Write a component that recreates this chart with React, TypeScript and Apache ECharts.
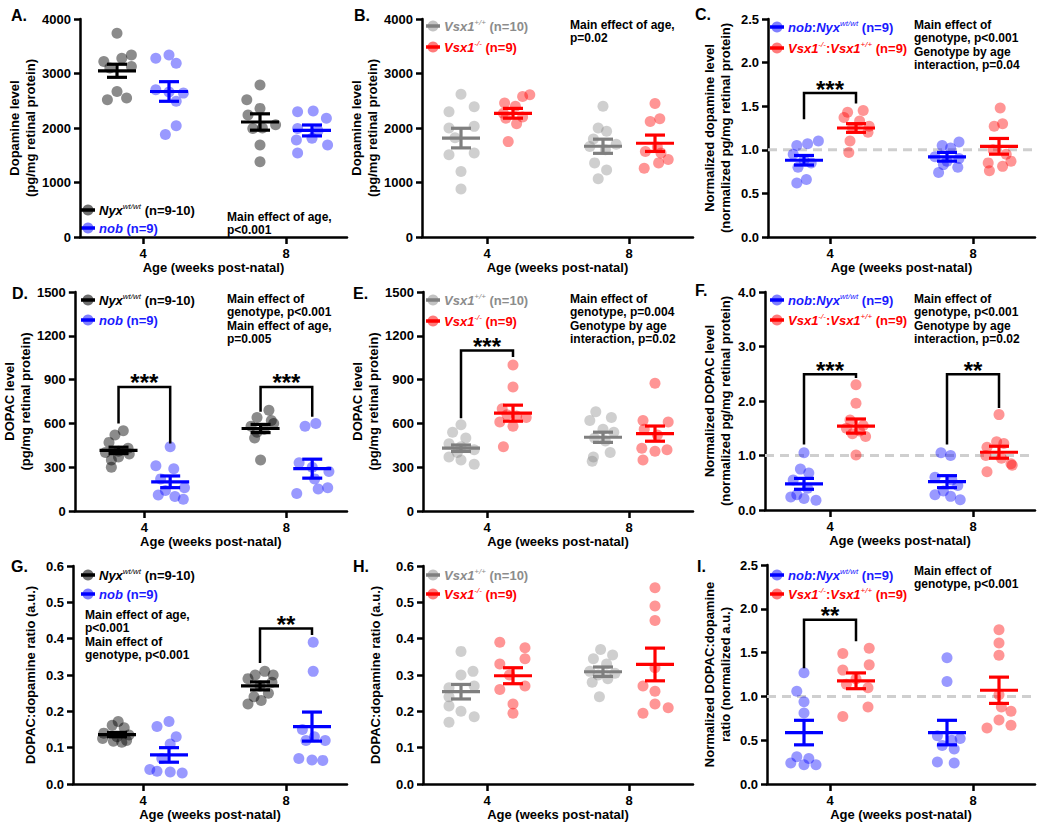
import React, { useEffect, useRef } from 'react';
import * as echarts from 'echarts';

const FONT = '"Liberation Sans", Arial, Helvetica, sans-serif';

// ---------- shared axis data ----------
const AGES = [4, 8];
const AGE_LABELS = ['4', '8'];
const X_TITLE = 'Age (weeks post-natal)';
const REF_LEVEL = 1;

const DA_TICKS = [0, 1000, 2000, 3000, 4000];
const NORM_DA_TICKS = [0, 0.5, 1, 1.5, 2, 2.5];
const DOPAC_TICKS = [0, 300, 600, 900, 1200, 1500];
const NORM_DOPAC_TICKS = [0, 1, 2, 3, 4];
const RATIO_TICKS = [0, 0.1, 0.2, 0.3, 0.4, 0.5, 0.6];
const NORM_RATIO_TICKS = [0, 0.5, 1, 1.5, 2, 2.5];

// ---------- Panel A: dopamine, Nyx wt/wt vs nob ----------
const A_G1 = [3740, 3340, 3280, 3220, 3130, 3100, 2670, 2550, 2520];
const A_G1_JIT = [0, 1.2, 0.4, -1.1, 1.2, -0.6, 0, 0.8, -0.8];
const A_G2 = [3340, 3280, 3190, 2700, 2660, 2640, 2490, 2040, 1880];
const A_G2_JIT = [0, -1.1, 0.6, -1.1, 0, 1.2, 0.6, 0.6, -0.3];
const A_G3 = [2790, 2520, 2360, 2240, 2060, 2000, 1990, 1690, 1380];
const A_G3_JIT = [0, -1.1, 0, -1, 1.3, 0.2, -0.6, 0, 0];
const A_G4 = [2310, 2300, 2180, 1990, 1950, 1810, 1780, 1690, 1540];
const A_G4_JIT = [0.1, -1.2, 1.2, -1.2, 0.5, 0, -1.3, 1.3, -1.2];
const A_MEAN = [3050, 2670, 2110, 1955];
const A_SEM = [120, 180, 150, 100];

// ---------- Panel B: dopamine, Vsx1 +/+ vs -/- ----------
const B_G1 = [2620, 2390, 2300, 2030, 2000, 1820, 1540, 1510, 1200, 880];
const B_G1_JIT = [0, 1.1, -1, 1.1, -1, -0.5, 1.1, -1, 0, 0];
const B_G2 = [2610, 2580, 2460, 2400, 2270, 2200, 2180, 2080, 1750];
const B_G2_JIT = [1.4, 0.8, -0.7, 0.2, -0.8, 0.8, -0.6, 0.3, -0.4];
const B_G3 = [2400, 2000, 1940, 1800, 1700, 1660, 1600, 1360, 1230, 1070];
const B_G3_JIT = [0, -0.4, 0.3, -0.8, 1.1, -1.1, 0.2, -0.7, 0.3, -0.4];
const B_G4 = [2450, 2170, 2120, 1650, 1570, 1540, 1420, 1360, 1260];
const B_G4_JIT = [0, 0.4, -0.4, 0.2, -0.8, 0.5, 1.1, 0.3, -0.9];
const B_MEAN = [1815, 2270, 1665, 1720];
const B_SEM = [180, 90, 130, 150];

// ---------- Panel C: normalized dopamine ----------
const C_G1 = [1.1, 1.07, 1.05, 0.95, 0.88, 0.85, 0.8, 0.66, 0.62];
const C_G1_JIT = [1.2, 0.3, -0.6, -0.9, 0, 0.6, -0.5, 0.2, -0.6];
const C_G2 = [1.45, 1.43, 1.37, 1.33, 1.27, 1.25, 1.2, 1.1, 0.97];
const C_G2_JIT = [0.6, -0.7, -1.0, 0.3, 1.1, -0.3, 1.0, -0.5, -0.6];
const C_G3 = [1.09, 1.05, 1.02, 0.92, 0.9, 0.87, 0.83, 0.8, 0.74];
const C_G3_JIT = [1.0, -0.4, 0.3, -1.0, 1.0, 0, -0.3, 0.9, -0.7];
const C_G4 = [1.48, 1.3, 1.27, 1.0, 0.95, 0.87, 0.85, 0.81, 0.76];
const C_G4_JIT = [0.1, 0.3, -0.4, -0.5, 0.6, 1.0, -0.9, 0.3, -0.8];
const C_MEAN = [0.88, 1.25, 0.92, 1.04];
const C_SEM = [0.055, 0.05, 0.05, 0.09];
const C_BRACKETS = [[0, 1.65, 1.35, 1.53]];
const C_STARS = ['***'];

// ---------- Panel D: DOPAC, Nyx vs nob ----------
const D_G1 = [550, 520, 470, 430, 410, 400, 390, 370, 350, 300];
const D_G1_JIT = [0.4, -0.3, -0.8, 0.8, 0, -1.1, 0.9, 0, -0.6, -0.6];
const D_G2 = [440, 310, 290, 220, 160, 140, 110, 100, 80];
const D_G2_JIT = [0, -1.2, 0.3, -0.8, 1.2, -0.4, -1.0, 0.4, 1.1];
const D_G3 = [690, 640, 620, 600, 580, 560, 540, 500, 350];
const D_G3_JIT = [0.7, -0.3, 0.9, 1.1, -0.8, 0.3, -0.3, -0.5, 0];
const D_G4 = [600, 580, 330, 300, 270, 220, 160, 150, 120];
const D_G4_JIT = [0.3, -0.6, -1.1, 0, 1.4, 0.2, 1.3, 0.5, -1.3];
const D_MEAN = [415, 200, 565, 290];
const D_SEM = [22, 40, 28, 65];
const D_BRACKETS = [[0, 850, 600, 463], [1, 850, 680, 645]];
const D_STARS = ['***', '***'];

// ---------- Panel E: DOPAC, Vsx1 ----------
const E_G1 = [590, 540, 500, 460, 440, 420, 400, 370, 350, 320];
const E_G1_JIT = [0, -0.7, 0.4, -1.0, 0, 1.1, -0.3, -1.0, 0, 1.1];
const E_G2 = [1000, 850, 700, 660, 650, 640, 610, 580, 440];
const E_G2_JIT = [0, 0, -0.9, -0.5, 0.3, 1.1, -1.1, 0, -0.8];
const E_G3 = [680, 640, 620, 560, 540, 500, 480, 400, 370, 340];
const E_G3_JIT = [-0.6, 0.7, -1.1, 0, 0.9, -0.7, 0.2, 0.6, -0.8, -0.9];
const E_G4 = [875, 620, 610, 560, 520, 430, 420, 410, 350];
const E_G4_JIT = [0, -1.0, 1.1, -0.9, 0.2, -1.1, 1.0, 0, -1.0];
const E_MEAN = [430, 670, 505, 530];
const E_SEM = [22, 55, 35, 52];
const E_BRACKETS = [[0, 1100, 635, 1055]];
const E_STARS = ['***'];

// ---------- Panel F: normalized DOPAC ----------
const F_G1 = [1.05, 0.75, 0.68, 0.55, 0.4, 0.28, 0.24, 0.21, 0.18];
const F_G1_JIT = [0, -0.3, 0.4, -0.9, 0.3, -0.6, -1.1, 0, 1.0];
const F_G2 = [2.3, 1.96, 1.65, 1.55, 1.5, 1.45, 1.4, 1.35, 1.01];
const F_G2_JIT = [0, 0, -0.5, 0.6, -0.8, 0.3, -0.3, 0.8, 0];
const F_G3 = [1.05, 1.0, 0.6, 0.55, 0.45, 0.35, 0.28, 0.25, 0.19];
const F_G3_JIT = [-0.5, 0.3, -1.0, 0.4, 0.9, -0.3, -1.0, 0.3, 1.1];
const F_G4 = [1.75, 1.25, 1.22, 1.15, 1.0, 0.95, 0.85, 0.82, 0.7];
const F_G4_JIT = [0, -0.2, 0.4, -1.0, -1.1, 0.2, 1.0, 1.1, -1.0];
const F_MEAN = [0.48, 1.54, 0.52, 1.06];
const F_SEM = [0.1, 0.13, 0.11, 0.11];
const F_BRACKETS = [[0, 2.49, 1.2, 2.42], [1, 2.49, 1.2, 1.87]];
const F_STARS = ['***', '**'];

// ---------- Panel G: DOPAC:dopamine ratio, Nyx vs nob ----------
const G_G1 = [0.172, 0.162, 0.155, 0.14, 0.135, 0.13, 0.125, 0.12, 0.118, 0.115];
const G_G1_JIT = [0.1, -0.4, 0.6, -1.1, 1.0, 0, -1.2, 0.8, -0.3, 0.4];
const G_G2 = [0.172, 0.158, 0.13, 0.11, 0.07, 0.04, 0.035, 0.033, 0.03];
const G_G2_JIT = [0, -1.0, 0.6, 0.1, -0.6, -1.6, -1.0, 0.1, 1.1];
const G_G3 = [0.31, 0.3, 0.3, 0.29, 0.28, 0.27, 0.25, 0.24, 0.23, 0.22];
const G_G3_JIT = [0.4, 1.1, -0.4, -1.0, 1.0, 0, 0.7, -0.5, 0.1, -1.0];
const G_G4 = [0.39, 0.31, 0.15, 0.13, 0.12, 0.12, 0.07, 0.066, 0.065];
const G_G4_JIT = [0.1, 0.1, -0.8, 0.2, 1.1, -0.5, -1.1, 0, 0.9];
const G_MEAN = [0.136, 0.08, 0.27, 0.158];
const G_SEM = [0.006, 0.02, 0.011, 0.04];
const G_BRACKETS = [[1, 0.428, 0.333, 0.41]];
const G_STARS = ['**'];

// ---------- Panel H: ratio, Vsx1 ----------
const H_G1 = [0.365, 0.31, 0.3, 0.27, 0.265, 0.24, 0.215, 0.2, 0.185, 0.17];
const H_G1_JIT = [0, 1.0, 0, 1.1, -1.0, -1.0, -1.0, 0, 1.1, -1.0];
const H_G2 = [0.39, 0.375, 0.345, 0.33, 0.3, 0.27, 0.26, 0.22, 0.195];
const H_G2_JIT = [-1.1, 1.0, 1.0, -1.1, -0.3, 1.0, -1.1, 0, 0];
const H_G3 = [0.37, 0.355, 0.345, 0.33, 0.31, 0.305, 0.3, 0.29, 0.28, 0.24];
const H_G3_JIT = [-0.2, 0.8, -0.8, 0.3, -1.1, 1.0, -0.4, 0.4, -0.9, -0.3];
const H_G4 = [0.54, 0.49, 0.45, 0.32, 0.27, 0.255, 0.22, 0.21, 0.195];
const H_G4_JIT = [0, 0, 0, 0, -1.0, 0, 0, 1.1, -1.0];
const H_MEAN = [0.254, 0.298, 0.309, 0.329];
const H_SEM = [0.02, 0.022, 0.013, 0.045];

// ---------- Panel I: normalized ratio ----------
const I_G1 = [1.27, 1.06, 0.94, 0.81, 0.31, 0.29, 0.24, 0.22, 0.22];
const I_G1_JIT = [0, -0.6, 0, 0, -0.6, 0.4, -1.1, 1.0, 0];
const I_G2 = [1.55, 1.49, 1.36, 1.3, 1.2, 1.14, 1.1, 0.88, 0.77];
const I_G2_JIT = [1.1, -1.1, 1.1, -1.1, 0, -0.8, 1.0, 1.0, -1.1];
const I_G3 = [1.44, 1.17, 0.55, 0.52, 0.5, 0.44, 0.4, 0.25, 0.24];
const I_G3_JIT = [0, 0, -0.8, 1.1, 0.4, -0.4, 0.6, -0.8, 0.6];
const I_G4 = [1.76, 1.61, 1.47, 1.02, 0.88, 0.83, 0.73, 0.67, 0.64];
const I_G4_JIT = [0, 0, 0, 0, 0.2, 1.0, 0, 1.0, -1.0];
const I_MEAN = [0.587, 1.178, 0.587, 1.07];
const I_SEM = [0.14, 0.09, 0.14, 0.15];
const I_BRACKETS = [[0, 1.875, 1.32, 1.63]];
const I_STARS = ['**'];

// ---------- legend labels ----------
const LEG_NYX = [['i', 'Nyx'], ['s', 'wt/wt'], ['n', ' (n=9-10)']];
const LEG_NOB = [['i', 'nob'], ['n', ' (n=9)']];
const LEG_WT = [['i', 'Vsx1'], ['s', '+/+'], ['n', ' (n=10)']];
const LEG_KO = [['i', 'Vsx1'], ['s', '-/-'], ['n', ' (n=9)']];
const LEG_NOB_N = [['i', 'nob'], ['n', ':'], ['i', 'Nyx'], ['s', 'wt/wt'], ['n', ' (n=9)']];
const LEG_KO_N = [['i', 'Vsx1'], ['s', '-/-'], ['n', ':'], ['i', 'Vsx1'], ['s', '+/+'], ['n', ' (n=9)']];

// ---------- styles ----------
const STYLES: any = {
  nyx: { point: 'rgba(0,0,0,0.57)', bar: '#000000', text: '#000000' },
  nob: { point: 'rgba(0,0,255,0.5)', bar: '#0000ff', text: '#1a1aff' },
  wt: { point: 'rgba(128,128,128,0.47)', bar: '#7f7f7f', text: '#8c8c8c' },
  ko: { point: 'rgba(255,0,0,0.52)', bar: '#ff0000', text: '#ff0000' },
};

const COLS = [
  { tick4: 143, tick8: 286, right: 347 },
  { tick4: 487, tick8: 629, right: 693 },
  { tick4: 830, tick8: 973, right: 1035 },
];
const GROUP_OFFSET = 26;
const LANE = 12;

const PANELS: any[] = [
  {
    letter: 'A.', lx: 11, ly: 15, left: 80, top: 19, bottom: 237, col: 0, nameGap: 40,
    ticks: DA_TICKS, dec: 0, yName: 'Dopamine level\n(pg/mg retinal protein)',
    groups: [[A_G1, A_G1_JIT], [A_G2, A_G2_JIT], [A_G3, A_G3_JIT], [A_G4, A_G4_JIT]],
    mean: A_MEAN, sem: A_SEM, styles: ['nyx', 'nob'], legend: [LEG_NYX, LEG_NOB],
    legX: 88, legY: [210, 228], annot: 'Main effect of age,\np<0.001', ax: 227, ay: 210,
  },
  {
    letter: 'B.', lx: 354, ly: 15, left: 422, top: 19, bottom: 237, col: 1, nameGap: 39,
    ticks: DA_TICKS, dec: 0, yName: 'Dopamine level\n(pg/mg retinal protein)',
    groups: [[B_G1, B_G1_JIT], [B_G2, B_G2_JIT], [B_G3, B_G3_JIT], [B_G4, B_G4_JIT]],
    mean: B_MEAN, sem: B_SEM, styles: ['wt', 'ko'], legend: [LEG_WT, LEG_KO],
    legX: 433, legY: [26, 47], annot: 'Main effect of age,\np=0.02', ax: 570, ay: 18,
  },
  {
    letter: 'C.', lx: 695, ly: 14, left: 768, top: 19, bottom: 237, col: 2, nameGap: 35,
    ticks: NORM_DA_TICKS, dec: 1, yName: 'Normalized dopamine level\n(normalized pg/mg retinal protein)',
    groups: [[C_G1, C_G1_JIT], [C_G2, C_G2_JIT], [C_G3, C_G3_JIT], [C_G4, C_G4_JIT]],
    mean: C_MEAN, sem: C_SEM, styles: ['nob', 'ko'], legend: [LEG_NOB_N, LEG_KO_N],
    legX: 777, legY: [27, 48], annot: 'Main effect of\ngenotype, p<0.001\nGenotype by age\ninteraction, p=0.04', ax: 914, ay: 18,
    brackets: C_BRACKETS, stars: C_STARS, ref: true,
  },
  {
    letter: 'D.', lx: 12, ly: 293, left: 73, top: 292, bottom: 511, col: 0, nameGap: 33,
    ticks: DOPAC_TICKS, dec: 0, yName: 'DOPAC level\n(pg/mg retinal protein)',
    groups: [[D_G1, D_G1_JIT], [D_G2, D_G2_JIT], [D_G3, D_G3_JIT], [D_G4, D_G4_JIT]],
    mean: D_MEAN, sem: D_SEM, styles: ['nyx', 'nob'], legend: [LEG_NYX, LEG_NOB],
    legX: 88, legY: [300, 320], annot: 'Main effect of\ngenotype, p<0.001\nMain effect of age,\np=0.005', ax: 227, ay: 292,
    brackets: D_BRACKETS, stars: D_STARS,
  },
  {
    letter: 'E.', lx: 353, ly: 293, left: 423, top: 292, bottom: 511, col: 1, nameGap: 40,
    ticks: DOPAC_TICKS, dec: 0, yName: 'DOPAC level\n(pg/mg retinal protein)',
    groups: [[E_G1, E_G1_JIT], [E_G2, E_G2_JIT], [E_G3, E_G3_JIT], [E_G4, E_G4_JIT]],
    mean: E_MEAN, sem: E_SEM, styles: ['wt', 'ko'], legend: [LEG_WT, LEG_KO],
    legX: 433, legY: [300, 321], annot: 'Main effect of\ngenotype, p=0.004\nGenotype by age\ninteraction, p=0.02', ax: 570, ay: 292,
    brackets: E_BRACKETS, stars: E_STARS,
  },
  {
    letter: 'F.', lx: 695, ly: 290, left: 765, top: 292, bottom: 510, col: 2, nameGap: 32,
    ticks: NORM_DOPAC_TICKS, dec: 1, yName: 'Normalized DOPAC level\n(normalized pg/mg retinal protein)',
    groups: [[F_G1, F_G1_JIT], [F_G2, F_G2_JIT], [F_G3, F_G3_JIT], [F_G4, F_G4_JIT]],
    mean: F_MEAN, sem: F_SEM, styles: ['nob', 'ko'], legend: [LEG_NOB_N, LEG_KO_N],
    legX: 777, legY: [300, 320], annot: 'Main effect of\ngenotype, p<0.001\nGenotype by age\ninteraction, p=0.02', ax: 914, ay: 292,
    brackets: F_BRACKETS, stars: F_STARS, ref: true,
  },
  {
    letter: 'G.', lx: 11, ly: 566, left: 73, top: 566, bottom: 784, col: 0, nameGap: 35,
    ticks: RATIO_TICKS, dec: 1, yName: 'DOPAC:dopamine ratio (a.u.)',
    groups: [[G_G1, G_G1_JIT], [G_G2, G_G2_JIT], [G_G3, G_G3_JIT], [G_G4, G_G4_JIT]],
    mean: G_MEAN, sem: G_SEM, styles: ['nyx', 'nob'], legend: [LEG_NYX, LEG_NOB],
    legX: 88, legY: [575, 594], annot: 'Main effect of age,\np<0.001\nMain effect of\ngenotype, p<0.001', ax: 85, ay: 608,
    brackets: G_BRACKETS, stars: G_STARS,
  },
  {
    letter: 'H.', lx: 353, ly: 566, left: 423, top: 566, bottom: 784, col: 1, nameGap: 40,
    ticks: RATIO_TICKS, dec: 1, yName: 'DOPAC:dopamine ratio (a.u.)',
    groups: [[H_G1, H_G1_JIT], [H_G2, H_G2_JIT], [H_G3, H_G3_JIT], [H_G4, H_G4_JIT]],
    mean: H_MEAN, sem: H_SEM, styles: ['wt', 'ko'], legend: [LEG_WT, LEG_KO],
    legX: 433, legY: [575, 594],
  },
  {
    letter: 'I.', lx: 697, ly: 566, left: 767, top: 565, bottom: 784, col: 2, nameGap: 34,
    ticks: NORM_RATIO_TICKS, dec: 1, yName: 'Normalized DOPAC:dopamine\nratio (normalized a.u.)',
    groups: [[I_G1, I_G1_JIT], [I_G2, I_G2_JIT], [I_G3, I_G3_JIT], [I_G4, I_G4_JIT]],
    mean: I_MEAN, sem: I_SEM, styles: ['nob', 'ko'], legend: [LEG_NOB_N, LEG_KO_N],
    legX: 777, legY: [575, 594], annot: 'Main effect of\ngenotype, p<0.001', ax: 914, ay: 564,
    brackets: I_BRACKETS, stars: I_STARS, ref: true,
  },
];

function richFor(color: string) {
  return {
    i: { fontStyle: 'italic', fontWeight: 'bold', fontSize: 13, fontFamily: FONT, fill: color, lineHeight: 16 },
    s: { fontStyle: 'italic', fontWeight: 'normal', fontSize: 8, fontFamily: FONT, fill: color, lineHeight: 7, verticalAlign: 'top' },
    n: { fontWeight: 'bold', fontSize: 13, fontFamily: FONT, fill: color, lineHeight: 16 },
  };
}

function buildOption() {
  const grid: any[] = [];
  const xAxis: any[] = [];
  const yAxis: any[] = [];
  const series: any[] = [];
  const graphic: any[] = [];

  PANELS.forEach((p, i) => {
    const col = COLS[p.col];
    const ppu = (col.tick8 - col.tick4) / (AGES[1] - AGES[0]);
    const xmin = AGES[0] - (col.tick4 - p.left) / ppu;
    const xmax = AGES[1] + (col.right - col.tick8) / ppu;
    const off = GROUP_OFFSET / ppu;
    const lane = LANE / ppu;
    const tks = p.ticks;
    const gx = (gi: number) => AGES[gi >> 1] + (gi % 2 === 0 ? -1 : 1) * off;

    grid.push({ left: p.left, top: p.top, width: col.right - p.left, height: p.bottom - p.top, containLabel: false });
    xAxis.push({
      gridIndex: i, type: 'value', min: xmin, max: xmax,
      axisLine: { show: true, onZero: false, lineStyle: { color: '#000', width: 2.5 } },
      axisTick: { show: true, length: 7, customValues: AGES, lineStyle: { color: '#000', width: 2.5 } },
      axisLabel: {
        show: true, customValues: AGES, margin: 10, color: '#000', fontWeight: 'bold', fontSize: 13, fontFamily: FONT,
        formatter: (v: number) => AGE_LABELS[AGES.indexOf(Math.round(v))] ?? '',
      },
      splitLine: { show: false },
      name: X_TITLE, nameLocation: 'middle', nameGap: 24,
      nameTextStyle: { color: '#000', fontWeight: 'bold', fontSize: 13, fontFamily: FONT },
    });
    yAxis.push({
      gridIndex: i, type: 'value', min: tks[0], max: tks[tks.length - 1], interval: tks[1] - tks[0],
      axisLine: { show: true, lineStyle: { color: '#000', width: 2.5 } },
      axisTick: { show: true, length: 6, lineStyle: { color: '#000', width: 2.5 } },
      axisLabel: {
        color: '#000', fontWeight: 'bold', fontSize: 13, fontFamily: FONT, margin: 9,
        formatter: (v: number) => v.toFixed(p.dec),
      },
      splitLine: { show: false },
      name: p.yName, nameLocation: 'middle', nameGap: p.nameGap, nameRotate: 90,
      nameTextStyle: { color: '#000', fontWeight: 'bold', fontSize: 13, fontFamily: FONT, lineHeight: 16 },
    });

    if (p.ref) {
      series.push({
        type: 'line', xAxisIndex: i, yAxisIndex: i, z: 1, silent: true, showSymbol: false, symbol: 'none',
        data: [[xmin, REF_LEVEL], [xmax, REF_LEVEL]],
        lineStyle: { color: '#cfcfcf', width: 3, type: [9, 6] },
      });
    }

    p.groups.forEach((g: any, gi: number) => {
      const st = STYLES[p.styles[gi % 2]];
      const cx = gx(gi);
      series.push({
        type: 'scatter', xAxisIndex: i, yAxisIndex: i, z: 2, silent: true,
        symbol: 'circle', symbolSize: 11,
        itemStyle: { color: st.point },
        data: g[0].map((v: number, k: number) => [cx + g[1][k] * lane, v]),
      });
    });

    series.push({
      type: 'custom', xAxisIndex: i, yAxisIndex: i, z: 3, silent: true, clip: false,
      encode: { x: 0, y: 1 },
      data: p.mean.map((m: number, gi: number) => [gx(gi), m, p.sem[gi]]),
      renderItem: (params: any, api: any) => {
        const x = api.value(0), m = api.value(1), s = api.value(2);
        const c = STYLES[p.styles[params.dataIndex % 2]].bar;
        const pm = api.coord([x, m]);
        const pt = api.coord([x, m + s]);
        const pb = api.coord([x, m - s]);
        const st = { stroke: c, lineWidth: 3.2 };
        return {
          type: 'group',
          children: [
            { type: 'line', shape: { x1: pm[0] - 19, y1: pm[1], x2: pm[0] + 19, y2: pm[1] }, style: st },
            { type: 'line', shape: { x1: pt[0], y1: pt[1], x2: pb[0], y2: pb[1] }, style: st },
            { type: 'line', shape: { x1: pt[0] - 10, y1: pt[1], x2: pt[0] + 10, y2: pt[1] }, style: st },
            { type: 'line', shape: { x1: pb[0] - 10, y1: pb[1], x2: pb[0] + 10, y2: pb[1] }, style: st },
          ],
        };
      },
    });

    if (p.brackets) {
      series.push({
        type: 'custom', xAxisIndex: i, yAxisIndex: i, z: 4, silent: true, clip: false,
        encode: { x: [0, 1], y: [2, 3, 4] },
        data: p.brackets.map((b: number[]) => [AGES[b[0]] - off, AGES[b[0]] + off, b[1], b[2], b[3]]),
        renderItem: (params: any, api: any) => {
          const l = api.coord([api.value(0), api.value(3)]);
          const tl = api.coord([api.value(0), api.value(2)]);
          const tr = api.coord([api.value(1), api.value(2)]);
          const r = api.coord([api.value(1), api.value(4)]);
          return {
            type: 'group',
            children: [
              { type: 'polyline', shape: { points: [l, tl, tr, r] }, style: { stroke: '#000', lineWidth: 2.5, fill: null } },
              {
                type: 'text', x: (tl[0] + tr[0]) / 2, y: tl[1] - 4,
                style: {
                  text: p.stars[params.dataIndex], fill: '#000', font: `bold 24px ${FONT}`,
                  align: 'center', verticalAlign: 'middle', textAlign: 'center', textVerticalAlign: 'middle',
                },
              },
            ],
          };
        },
      });
    }

    // panel letter
    graphic.push({
      type: 'text', x: p.lx, y: p.ly, silent: true,
      style: { text: p.letter, fill: '#000', font: `bold 16px ${FONT}`, align: 'left', verticalAlign: 'middle', textAlign: 'left', textVerticalAlign: 'middle' },
    });

    // legend
    p.legend.forEach((tokens: any[], li: number) => {
      const st = STYLES[p.styles[li]];
      const cy = p.legY[li];
      graphic.push({ type: 'circle', silent: true, shape: { cx: p.legX, cy, r: 5.5 }, style: { fill: st.point } });
      graphic.push({ type: 'rect', silent: true, shape: { x: p.legX - 7, y: cy - 1.75, width: 14, height: 3.5 }, style: { fill: st.bar } });
      graphic.push({
        type: 'text', x: p.legX + 11, y: cy, silent: true,
        style: {
          text: tokens.map((t: string[]) => `{${t[0]}|${t[1]}}`).join(''),
          rich: richFor(st.text), fill: st.text, font: `bold 13px ${FONT}`,
          align: 'left', verticalAlign: 'middle', textAlign: 'left', textVerticalAlign: 'middle',
        },
      });
    });

    if (p.annot) {
      graphic.push({
        type: 'text', x: p.ax, y: p.ay, silent: true,
        style: {
          text: p.annot, fill: '#000', font: `bold 12px ${FONT}`, lineHeight: 13.5,
          align: 'left', verticalAlign: 'top', textAlign: 'left', textVerticalAlign: 'top',
        },
      });
    }
  });

  return { animation: false, backgroundColor: '#ffffff', grid, xAxis, yAxis, series, graphic };
}

export default function App() {
  const ref = useRef<HTMLDivElement>(null);
  useEffect(() => {
    const chart = echarts.init(ref.current as HTMLDivElement, null, { renderer: 'svg' });
    chart.setOption(buildOption() as any);
    return () => chart.dispose();
  }, []);
  return (
    <div
      ref={ref}
      style={{ position: 'fixed', left: 0, top: 0, width: 1050, height: 833, background: '#ffffff' }}
    />
  );
}
